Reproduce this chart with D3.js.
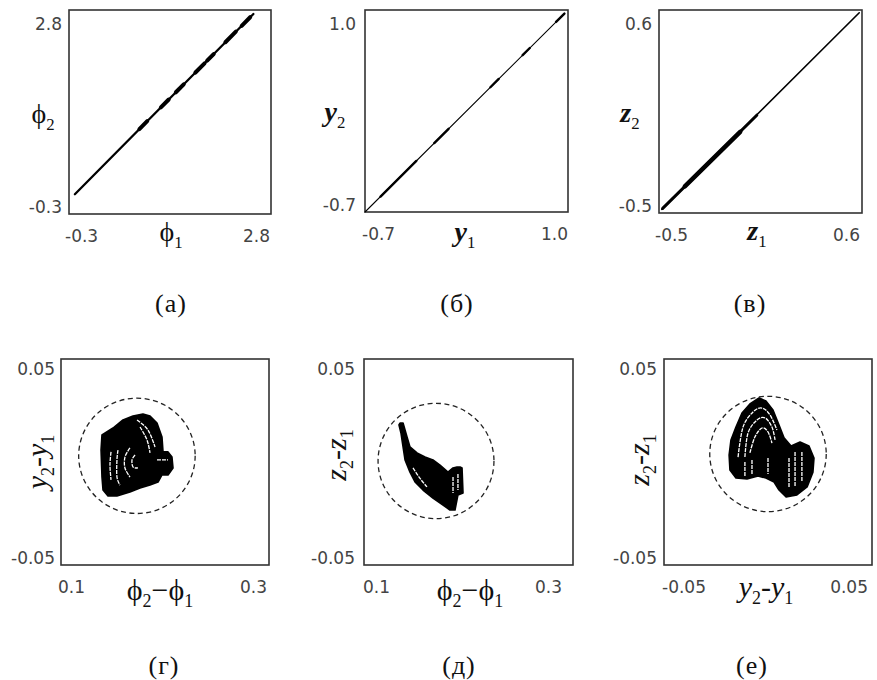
<!DOCTYPE html>
<html>
<head>
<meta charset="utf-8">
<script src="https://cdn.jsdelivr.net/npm/d3@7"></script>
<style>
  body { margin: 0; background: #fff; }
  .tick { font-family: "DejaVu Sans", sans-serif; font-size: 17px; fill: #444; }
  .cap { font-family: "Liberation Serif", serif; font-size: 26px; letter-spacing: 1px; fill: #111; }
</style>
</head>
<body>
<svg id="fig" width="877" height="680"></svg>
<script>
// axis ranges / tick labels
var domPhi = [-0.3, 2.8],
    domY = [-0.7, 1.0],
    domZ = [-0.5, 0.6],
    domDphi = [0.1, 0.3],
    domDphiD = [0.1, 0.32],
    domDiff = [-0.05, 0.05];

var ticksPhi = [-0.3, 2.8],
    ticksY = [-0.7, 1.0],
    ticksZ = [-0.5, 0.6],
    ticksDphi = [0.1, 0.3],
    ticksDiff = [-0.05, 0.05];

var captions = ["(а)", "(б)", "(в)", "(г)", "(д)", "(е)"];

// (а) phi2 vs phi1
var phiLine = [[-0.21, 0.0], [2.53, 2.74]];
var phiKnots = [
  [[0.78, 0.99], [0.90, 1.11]], [[1.11, 1.32], [1.23, 1.44]], [[1.34, 1.55], [1.46, 1.67]],
  [[1.64, 1.85], [1.78, 1.99]], [[1.82, 2.03], [1.92, 2.13]], [[2.10, 2.31], [2.26, 2.47]],
  [[2.35, 2.56], [2.48, 2.69]]
];

// (б) y2 vs y1
var yLine = [[-0.7, -0.7], [0.97, 0.97]];
var yKnots = [
  [[-0.57, -0.57], [-0.27, -0.27]], [[-0.12, -0.12], [0.0, 0.0]], [[0.35, 0.35], [0.42, 0.42]],
  [[0.62, 0.62], [0.68, 0.68]], [[0.90, 0.90], [0.97, 0.97]]
];

// (в) z2 vs z1
var zLine = [[-0.485, -0.48], [0.585, 0.585]];
var zBand = [[-0.48, -0.475], [0.03, 0.03]];
var zCore = [[-0.36, -0.356], [-0.06, -0.06]];

// (г) y2-y1 vs phi2-phi1
var blobG = [
  [0.1394, 0.0131], [0.1500, 0.0165], [0.1596, 0.0204], [0.1692, 0.0223], [0.1788, 0.0233],
  [0.1856, 0.0223], [0.1923, 0.0189], [0.1971, 0.0121], [0.1981, 0.0049], [0.2029, 0.0049],
  [0.2067, 0.0024], [0.2077, -0.0029], [0.2029, -0.0063], [0.1971, -0.0063], [0.1933, -0.0097],
  [0.1856, -0.0112], [0.1760, -0.0126], [0.1663, -0.0146], [0.1538, -0.0165], [0.1452, -0.0165],
  [0.1404, -0.0136], [0.1394, -0.0073], [0.1385, 0.0058]
];
var gapsG = [
  [[0.1481, 0.0049], [0.1471, -0.0015], [0.1481, -0.0087]],
  [[0.1548, 0.0058], [0.1538, 0.0010], [0.1538, -0.0073], [0.1567, -0.0112]],
  [[0.1663, 0.0068], [0.1615, 0.0024], [0.1615, -0.0029], [0.1663, -0.0073]],
  [[0.1712, 0.0034], [0.1683, 0.0010], [0.1692, -0.0024], [0.1740, -0.0029]],
  [[0.1731, 0.0204], [0.1837, 0.0155], [0.1904, 0.0073]],
  [[0.1760, 0.0170], [0.1827, 0.0107], [0.1856, 0.0044]],
  [[0.1923, 0.0010], [0.2029, 0.0010]]
];
var ringG = [0.173, 0.003, 0.056, 0.028];

// (д) z2-z1 vs phi2-phi1
var blobD = [
  [0.1379, 0.0189], [0.1411, 0.0189], [0.1453, 0.0121], [0.1484, 0.0073], [0.1558, 0.0044],
  [0.1642, 0.0024], [0.1726, 0.0010], [0.1800, -0.0015], [0.1884, -0.0049], [0.1937, -0.0029],
  [0.1979, -0.0024], [0.2011, -0.0024], [0.2032, -0.0029], [0.2042, -0.0150], [0.1989, -0.0160],
  [0.1958, -0.0233], [0.1905, -0.0233], [0.1832, -0.0209], [0.1726, -0.0175], [0.1621, -0.0136],
  [0.1537, -0.0097], [0.1484, -0.0049], [0.1432, 0.0010], [0.1411, 0.0073], [0.1389, 0.0141],
  [0.1368, 0.0180]
];
var gapsD = [
  [[0.1516, -0.0029], [0.1590, -0.0080], [0.1663, -0.0121]],
  [[0.1937, -0.0073], [0.1937, -0.0150]],
  [[0.1989, -0.0058], [0.1989, -0.0136]]
];
var ringD = [0.1758, 0.0005, 0.061, 0.028];

// (е) z2-z1 vs y2-y1
var blobE = [
  [-0.0043, 0.0311], [-0.0087, 0.0282], [-0.0125, 0.0238], [-0.0154, 0.0170], [-0.0178, 0.0107],
  [-0.0187, 0.0034], [-0.0183, -0.0039], [-0.0154, -0.0078], [-0.0101, -0.0082], [-0.0048, -0.0068],
  [-0.0010, -0.0078], [0.0029, -0.0097], [0.0053, -0.0136], [0.0087, -0.0170], [0.0139, -0.0160],
  [0.0188, -0.0121], [0.0216, -0.0049], [0.0221, 0.0019], [0.0197, 0.0078], [0.0154, 0.0097],
  [0.0111, 0.0078], [0.0077, 0.0117], [0.0053, 0.0180], [0.0024, 0.0252], [-0.0010, 0.0296]
];
var gapsE = [
  [[-0.0144, 0.0024], [-0.0120, 0.0170], [-0.0072, 0.0243], [-0.0029, 0.0262], [0.0010, 0.0228], [0.0043, 0.0155]],
  [[-0.0111, 0.0024], [-0.0096, 0.0141], [-0.0053, 0.0204], [-0.0014, 0.0214], [0.0019, 0.0170], [0.0034, 0.0107]],
  [[-0.0087, 0.0044], [-0.0063, 0.0121], [-0.0029, 0.0165], [0.0000, 0.0146], [0.0019, 0.0092]],
  [[-0.0111, 0.0000], [-0.0111, -0.0068]],
  [[-0.0077, 0.0010], [-0.0077, -0.0063]],
  [[0.0000, 0.0019], [0.0000, -0.0058]],
  [[0.0101, 0.0019], [0.0101, -0.0126]],
  [[0.0130, 0.0049], [0.0130, -0.0121]],
  [[0.0163, 0.0049], [0.0163, -0.0097]]
];
var ringE = [0.0, 0.0039, 0.028, 0.028];

var svg = d3.select("#fig");

function mathLabel(x, y, parts, size, rot, bold) {
  var t = svg.append("text")
      .attr("font-family", "Liberation Serif, serif")
      .attr("font-size", size)
      .attr("fill", "#111")
      .attr("text-anchor", "middle");
  if (bold) t.attr("font-weight", "bold");
  if (rot) t.attr("transform", "translate(" + x + "," + y + ") rotate(-90)");
  else t.attr("x", x).attr("y", y);
  var shift = 0;
  parts.forEach(function(p) {
    var s = t.append("tspan").text(p.t);
    var target = p.sub ? size * 0.24 : 0;
    s.attr("dy", target - shift);
    shift = target;
    if (p.sub) s.attr("font-size", size * 0.6).attr("font-weight", "normal");
    if (p.i) s.attr("font-style", "italic");
  });
}

function panel(c) {
  var g = svg.append("g");
  var x = d3.scaleLinear().domain(c.xd).range([c.box[0], c.box[2]]);
  var y = d3.scaleLinear().domain(c.yd).range([c.box[3], c.box[1]]);
  var fy = function(v) { return v.toFixed(c.ydec); },
      fx = function(v) { return v.toFixed(c.xdec); };

  g.append("rect")
      .attr("x", c.box[0]).attr("y", c.box[1])
      .attr("width", c.box[2] - c.box[0]).attr("height", c.box[3] - c.box[1])
      .attr("fill", "none").attr("stroke", "#333").attr("stroke-width", 1.6);

  g.append("text").attr("class", "tick")
      .attr("x", c.box[0] - c.ygap).attr("y", y(c.yt[1]) + c.ytop)
      .attr("text-anchor", "end").text(fy(c.yt[1]));
  g.append("text").attr("class", "tick")
      .attr("x", c.box[0] - c.ygap).attr("y", y(c.yt[0]) - 1)
      .attr("text-anchor", "end").text(fy(c.yt[0]));
  g.append("text").attr("class", "tick")
      .attr("x", x(c.xt[0]) + c.xdx[0]).attr("y", c.box[3] + 28)
      .attr("text-anchor", "start").text(fx(c.xt[0]));
  g.append("text").attr("class", "tick")
      .attr("x", x(c.xt[1]) + c.xdx[1]).attr("y", c.box[3] + 28)
      .attr("text-anchor", "end").text(fx(c.xt[1]));

  return {g: g, x: x, y: y, line: d3.line().x(function(d) { return x(d[0]); }).y(function(d) { return y(d[1]); })};
}

function stroke(p, data, w) {
  p.g.append("path").datum(data).attr("d", p.line)
      .attr("fill", "none").attr("stroke", "#000")
      .attr("stroke-width", w).attr("stroke-linecap", "round");
}

function attractor(p, blob, gaps, ring) {
  p.g.append("ellipse")
      .attr("cx", p.x(ring[0])).attr("cy", p.y(ring[1]))
      .attr("rx", p.x(ring[0] + ring[2]) - p.x(ring[0]))
      .attr("ry", p.y(ring[1] - ring[3]) - p.y(ring[1]))
      .attr("fill", "none").attr("stroke", "#222")
      .attr("stroke-width", 1.3).attr("stroke-dasharray", "5,3.5");
  p.g.append("path").datum(blob)
      .attr("d", p.line.curve(d3.curveLinearClosed))
      .attr("fill", "#000").attr("stroke", "#000")
      .attr("stroke-width", 1.6).attr("stroke-linejoin", "round");
  p.line.curve(d3.curveCardinal);
  gaps.forEach(function(d) {
    p.g.append("path").datum(d).attr("d", p.line)
        .attr("fill", "none").attr("stroke", "#fff")
        .attr("stroke-width", 1.3).attr("stroke-dasharray", "4,1");
  });
  p.line.curve(d3.curveLinear);
}

// top row
var pa = panel({box: [69, 10, 271, 214], xd: domPhi, yd: domPhi, xt: ticksPhi, yt: ticksPhi, xdec: 1, ydec: 1, xdx: [-4, -1], ygap: 7, ytop: 20});
stroke(pa, phiLine, 2.3);
phiKnots.forEach(function(d) { stroke(pa, d, 4); });

var pb = panel({box: [365, 10, 568, 212], xd: domY, yd: domY, xt: ticksY, yt: ticksY, xdec: 1, ydec: 1, xdx: [-3, 0], ygap: 9, ytop: 20});
stroke(pb, yLine, 1.1);
yKnots.forEach(function(d) { stroke(pb, d, 2.4); });

var pc = panel({box: [659, 10, 862, 213], xd: domZ, yd: domZ, xt: ticksZ, yt: ticksZ, xdec: 1, ydec: 1, xdx: [-4, -2], ygap: 7, ytop: 20});
stroke(pc, zLine, 1.6);
stroke(pc, zBand, 3);
stroke(pc, zCore, 4.5);

// bottom row
var pg = panel({box: [61, 359, 269, 565], xd: domDphi, yd: domDiff, xt: ticksDphi, yt: ticksDiff, xdec: 1, ydec: 2, xdx: [-3, -2], ygap: 6, ytop: 16});
attractor(pg, blobG, gapsG, ringG);

var pd = panel({box: [364, 359, 573, 565], xd: domDphiD, yd: domDiff, xt: ticksDphi, yt: ticksDiff, xdec: 1, ydec: 2, xdx: [-1, 8], ygap: 9, ytop: 16});
attractor(pd, blobD, gapsD, ringD);

var pe = panel({box: [664, 359, 872, 565], xd: domDiff, yd: domDiff, xt: ticksDiff, yt: ticksDiff, xdec: 2, ydec: 2, xdx: [-2, -4], ygap: 7, ytop: 16});
attractor(pe, blobE, gapsE, ringE);

// axis names
mathLabel(43, 123, [{t: "ϕ"}, {t: "2", sub: true}], 28);
mathLabel(171, 241, [{t: "ϕ"}, {t: "1", sub: true}], 28);
mathLabel(335, 121, [{t: "y", i: true}, {t: "2", sub: true}], 28, false, true);
mathLabel(465, 241, [{t: "y", i: true}, {t: "1", sub: true}], 28, false, true);
mathLabel(630, 122, [{t: "z", i: true}, {t: "2", sub: true}], 28, false, true);
mathLabel(757, 240, [{t: "z", i: true}, {t: "1", sub: true}], 28, false, true);

mathLabel(160, 600, [{t: "ϕ"}, {t: "2", sub: true}, {t: "−"}, {t: "ϕ"}, {t: "1", sub: true}], 30);
mathLabel(470, 600, [{t: "ϕ"}, {t: "2", sub: true}, {t: "−"}, {t: "ϕ"}, {t: "1", sub: true}], 30);
mathLabel(766, 597, [{t: "y", i: true}, {t: "2", sub: true}, {t: "-"}, {t: "y", i: true}, {t: "1", sub: true}], 30);
mathLabel(47, 462, [{t: "y", i: true}, {t: "2", sub: true}, {t: "-"}, {t: "y", i: true}, {t: "1", sub: true}], 30, true);
mathLabel(346, 455, [{t: "z", i: true}, {t: "2", sub: true}, {t: "-"}, {t: "z", i: true}, {t: "1", sub: true}], 30, true);
mathLabel(649, 460, [{t: "z", i: true}, {t: "2", sub: true}, {t: "-"}, {t: "z", i: true}, {t: "1", sub: true}], 30, true);

// captions
var capX = [171, 457, 750, 164, 459, 752],
    capY = [312, 312, 312, 674, 674, 674];
svg.selectAll("text.cap").data(captions).enter().append("text")
    .attr("class", "cap")
    .attr("x", function(d, i) { return capX[i]; })
    .attr("y", function(d, i) { return capY[i]; })
    .attr("text-anchor", "middle")
    .text(function(d) { return d; });
</script>
</body>
</html>
